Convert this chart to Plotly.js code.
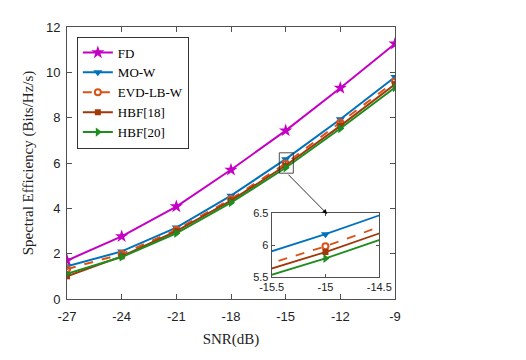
<!DOCTYPE html>
<html>
<head>
<meta charset="utf-8">
<script src="https://cdn.plot.ly/plotly-3.0.1.min.js"></script>
<style>html,body{margin:0;padding:0;background:#fff;}#chart{width:526px;height:360px;}</style>
</head>
<body>
<div id="chart"></div>
<script>
const snr = [-27, -24, -21, -18, -15, -12, -9];
const fd = [1.70, 2.76, 4.08, 5.70, 7.43, 9.31, 11.26];
const mow = [1.44, 2.10, 3.15, 4.56, 6.17, 7.93, 9.79];
const evd = [1.32, 1.98, 3.05, 4.41, 5.98, 7.79, 9.60];
const hbf18 = [1.00, 1.88, 2.99, 4.34, 5.89, 7.64, 9.47];
const hbf20 = [1.11, 1.85, 2.90, 4.25, 5.79, 7.52, 9.33];
const xTicks = [-27, -24, -21, -18, -15, -12, -9];
const yTicks = [0, 2, 4, 6, 8, 10, 12];
const insetX = [-15.5, -15, -14.5];
const insetY = [5.5, 6, 6.5];

const series = [
  {name: 'FD', y: fd, color: '#C400C4', symbol: 'star', size: 10, dash: 'solid'},
  {name: 'MO-W', y: mow, color: '#0072BD', symbol: 'triangle-down', size: 8, dash: 'solid'},
  {name: 'EVD-LB-W', y: evd, color: '#D95319', symbol: 'circle-open', size: 6, dash: 'dash'},
  {name: 'HBF[18]', y: hbf18, color: '#A0380A', symbol: 'square', size: 6, dash: 'solid'},
  {name: 'HBF[20]', y: hbf20, color: '#1E8C1E', symbol: 'triangle-right', size: 8, dash: 'solid'}
];

const traces = [];
series.forEach(s => {
  traces.push({
    x: snr, y: s.y, name: s.name, type: 'scatter', mode: 'lines+markers',
    line: {color: s.color, width: 2, dash: s.dash},
    marker: {symbol: s.symbol, size: s.size, color: s.color, line: {color: s.color, width: s.symbol === 'circle-open' ? 2 : 0}},
    xaxis: 'x', yaxis: 'y'
  });
});
series.forEach(s => {
  traces.push({
    x: snr, y: s.y, name: s.name, type: 'scatter', mode: 'lines+markers', showlegend: false,
    line: {color: s.color, width: 1.8, dash: s.dash},
    marker: {symbol: s.symbol, size: s.size, color: s.color, line: {color: s.color, width: s.symbol === 'circle-open' ? 2 : 0}},
    xaxis: 'x2', yaxis: 'y2', cliponaxis: true
  });
});

const axCol = '#505050';
const layout = {
  width: 526, height: 360,
  margin: {l: 67, r: 131, t: 27, b: 61},
  paper_bgcolor: '#fff', plot_bgcolor: '#fff',
  showlegend: true,
  legend: {
    x: 0.03, y: 0.965, xanchor: 'left', yanchor: 'top',
    bgcolor: '#fff', bordercolor: '#333', borderwidth: 1,
    font: {family: 'Liberation Serif, DejaVu Serif, serif', size: 13, color: '#000'},
    tracegroupgap: 0, itemwidth: 30
  },
  xaxis: {
    range: [-27, -9], tickvals: xTicks, ticktext: xTicks.map(String),
    showgrid: false, zeroline: false, showline: true, mirror: 'ticks', linecolor: axCol, linewidth: 1,
    ticks: 'inside', ticklen: 5, tickcolor: axCol, ticklabelstandoff: 5,
    tickfont: {family: 'Liberation Sans, Arial, sans-serif', size: 13, color: '#222'},
    title: {text: 'SNR(dB)', font: {family: 'Liberation Serif, DejaVu Serif, serif', size: 15, color: '#222'}, standoff: 10}
  },
  yaxis: {
    range: [0, 12], tickvals: yTicks, ticktext: yTicks.map(String),
    showgrid: false, zeroline: false, showline: true, mirror: 'ticks', linecolor: axCol, linewidth: 1,
    ticks: 'inside', ticklen: 5, tickcolor: axCol, ticklabelstandoff: 3,
    tickfont: {family: 'Liberation Sans, Arial, sans-serif', size: 13, color: '#222'},
    title: {text: 'Spectral Efficiency (Bits/Hz/s)', font: {family: 'Liberation Serif, DejaVu Serif, serif', size: 15, color: '#222'}, standoff: 8}
  },
  xaxis2: {
    domain: [0.624, 0.952], anchor: 'y2', range: [-15.5, -14.5],
    tickvals: insetX, ticktext: insetX.map(String),
    showgrid: false, zeroline: false, showline: true, mirror: 'ticks', linecolor: axCol, linewidth: 1,
    ticks: 'inside', ticklen: 3, tickcolor: axCol,
    tickfont: {family: 'Liberation Sans, Arial, sans-serif', size: 11, color: '#222'}
  },
  yaxis2: {
    domain: [0.081, 0.316], anchor: 'x2', range: [5.5, 6.5],
    tickvals: insetY, ticktext: insetY.map(String),
    showgrid: false, zeroline: false, showline: true, mirror: 'ticks', linecolor: axCol, linewidth: 1,
    ticks: 'inside', ticklen: 3, tickcolor: axCol,
    tickfont: {family: 'Liberation Sans, Arial, sans-serif', size: 11, color: '#222'}
  },
  shapes: [
    {type: 'rect', xref: 'x', yref: 'y', x0: -15.35, x1: -14.58, y0: 5.55, y1: 6.45,
     line: {color: '#222', width: 0.8}, fillcolor: 'rgba(0,0,0,0)'}
  ],
  annotations: [
    {xref: 'x', yref: 'y', axref: 'x', ayref: 'y', x: -12.72, y: 3.75, ax: -14.93, ay: 5.55,
     showarrow: true, arrowhead: 2, arrowsize: 1.2, arrowwidth: 0.8, arrowcolor: '#000', text: ''}
  ]
};

Plotly.newPlot('chart', traces, layout, {displayModeBar: false, staticPlot: true});
</script>
</body>
</html>
